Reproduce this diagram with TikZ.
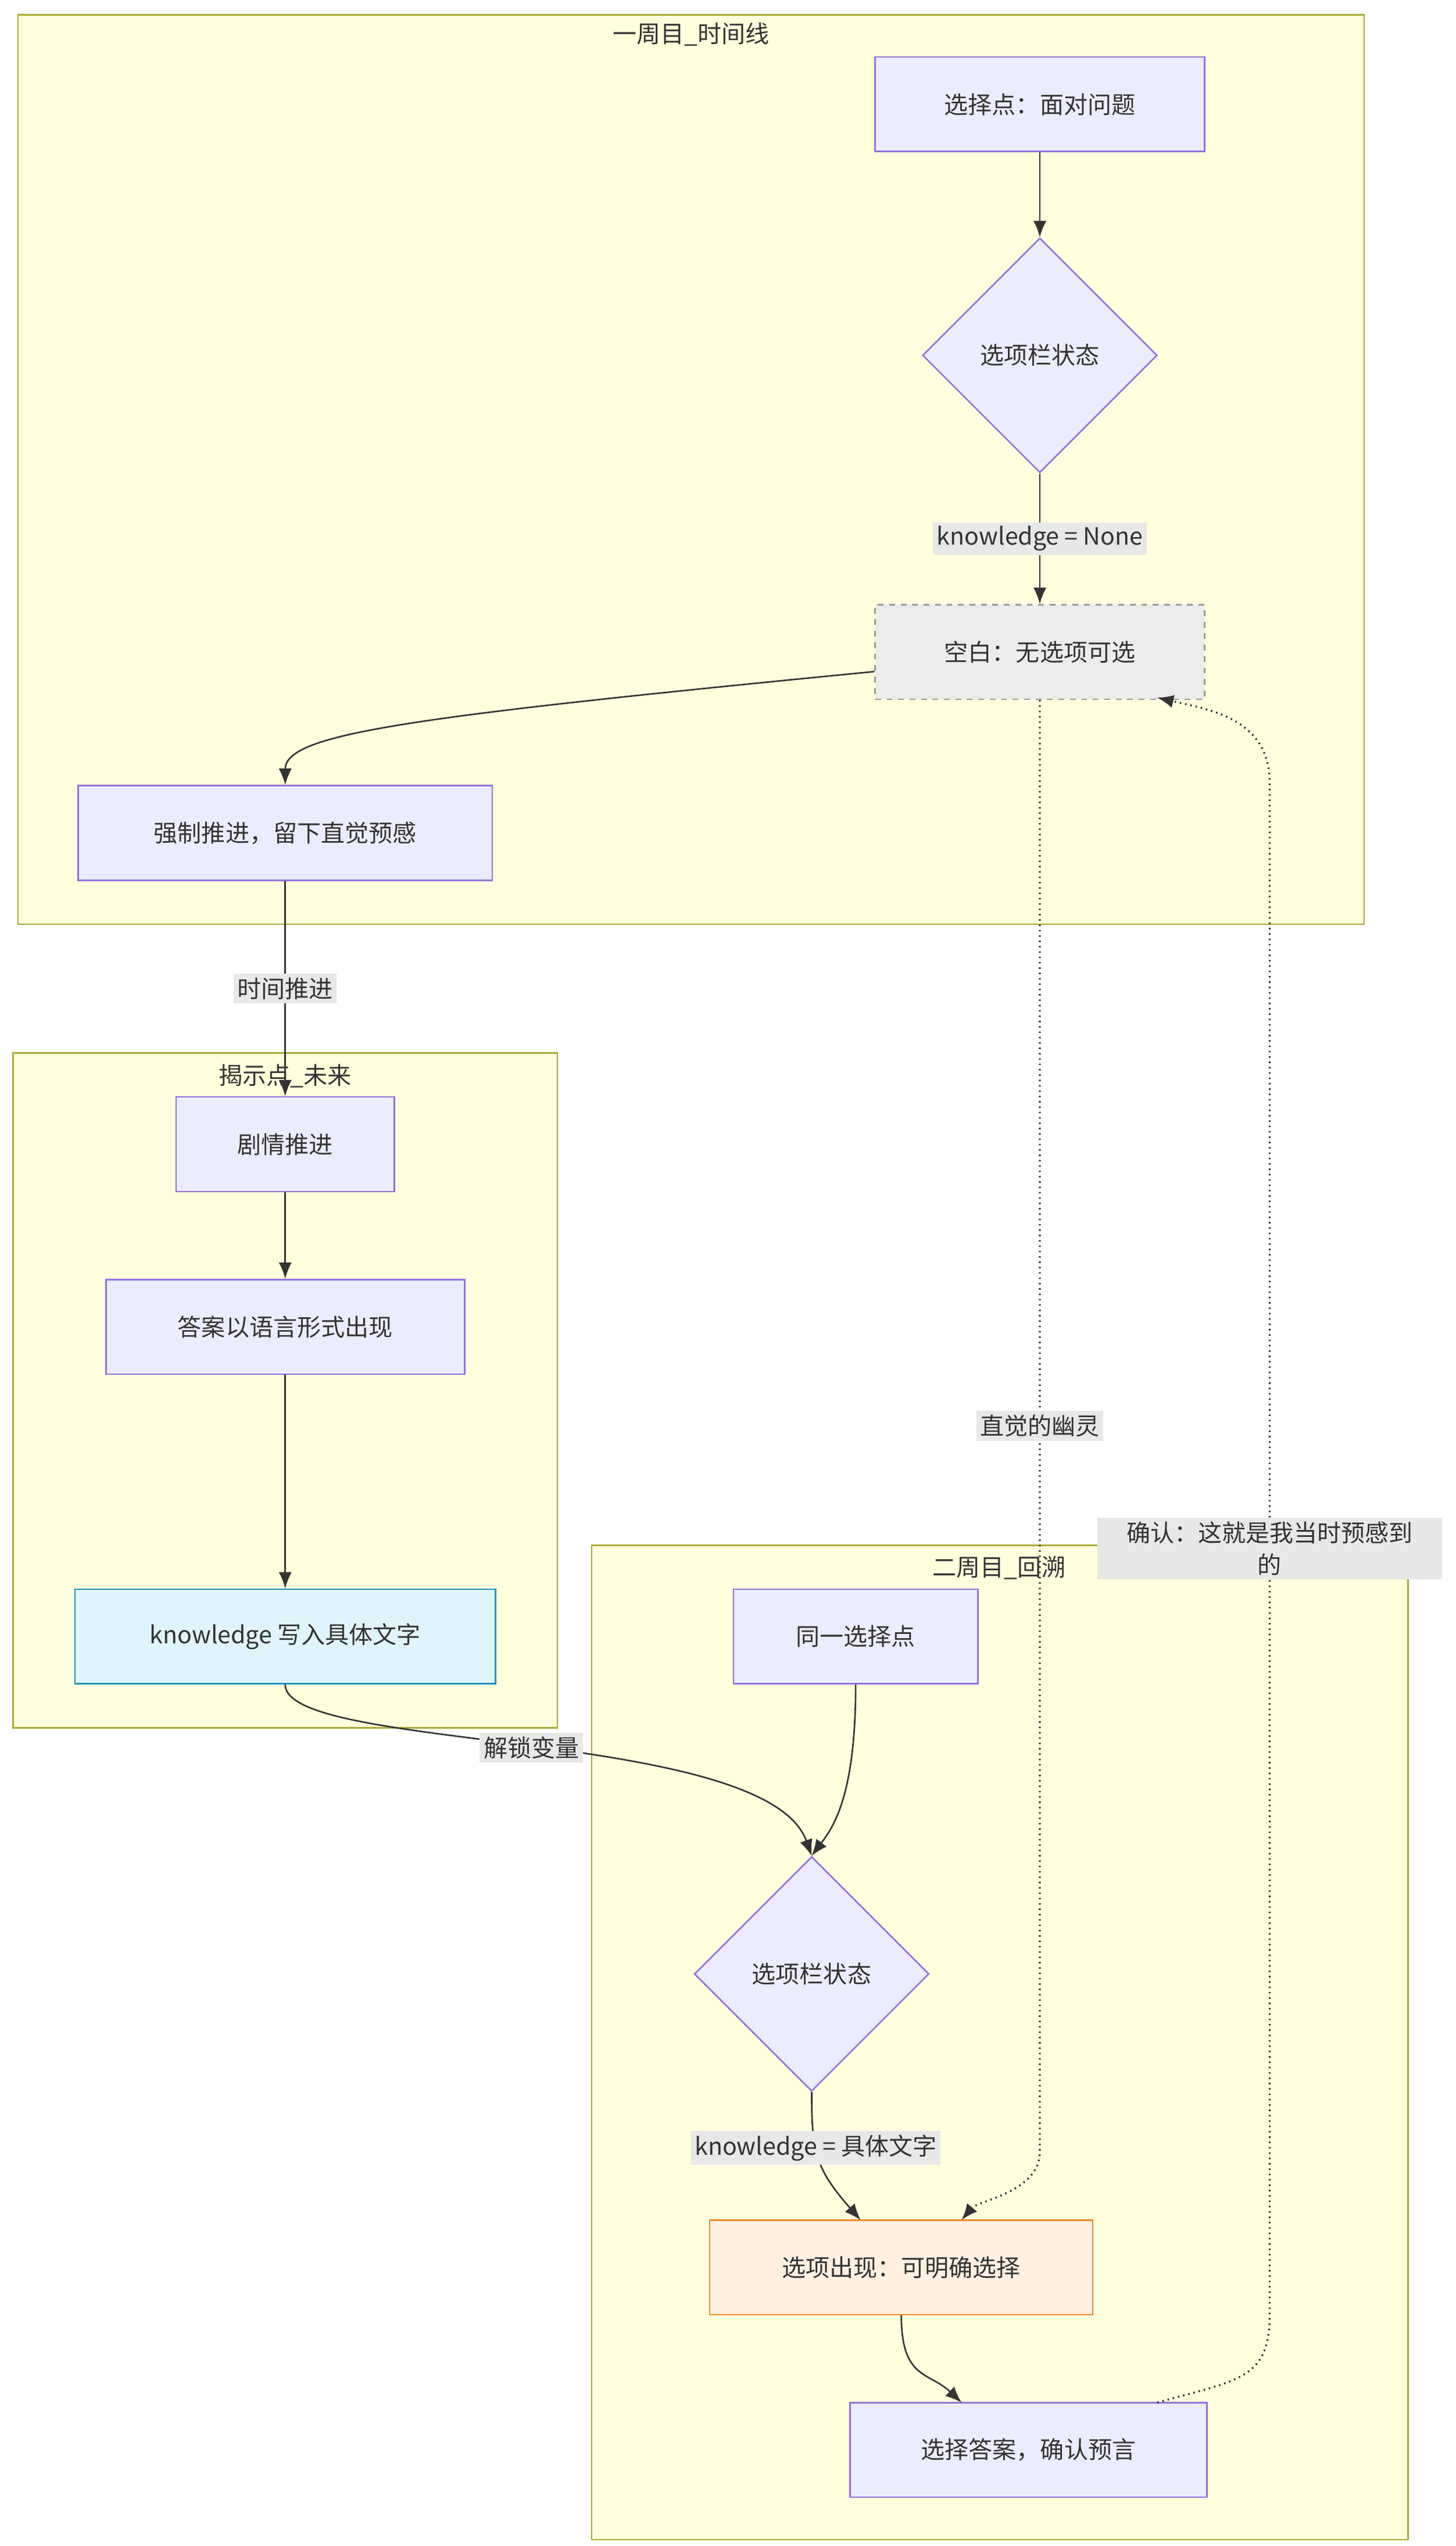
\documentclass[tikz,border=0pt]{standalone}
\usepackage{fontspec}
\setmainfont{Noto Sans CJK SC}
\usetikzlibrary{shapes.geometric, arrows.meta, positioning}
\definecolor{nodefill}{HTML}{ECECFF}
\definecolor{nodeline}{HTML}{9370DB}
\definecolor{clusterfill}{HTML}{FFFFDE}
\definecolor{clusterline}{HTML}{AAAA33}
\definecolor{labelfill}{HTML}{E8E8E8}
\definecolor{edgecol}{HTML}{333333}
\tikzset{
    cluster/.style   = {draw=clusterline, fill=clusterfill, line width=0.8pt},
    title/.style     = {font=\fontsize{12.5}{15}\selectfont, text=edgecol},
    process/.style   = {draw=nodeline, fill=nodefill, rectangle, minimum height=1.74cm, text centered, line width=0.8pt},
    decision/.style  = {draw=nodeline, fill=nodefill, diamond, minimum width=4.32cm, minimum height=4.32cm, inner sep=0pt, line width=0.8pt},
    blank/.style     = {process, draw=gray!80, fill=gray!15, dashed},
    written/.style   = {process, draw=HTML1F8FBF, fill=HTMLE0F4FC},
    shown/.style     = {process, draw=HTMLF08A24, fill=HTMLFFF0E0},
    elabel/.style    = {fill=labelfill, inner sep=2pt, font=\fontsize{12.5}{17}\selectfont, text=edgecol},
    to/.style        = {-{Latex[length=3mm,width=2.4mm]}, draw=edgecol, line width=0.8pt},
    ghost/.style     = {to, dotted, line width=1pt}
}
\definecolor{HTML1F8FBF}{HTML}{1F8FBF}
\definecolor{HTMLE0F4FC}{HTML}{E0F4FC}
\definecolor{HTMLF08A24}{HTML}{F08A24}
\definecolor{HTMLFFF0E0}{HTML}{FFF0E0}
\begin{document}
\begin{tikzpicture}[x=0.03cm, y=-0.03cm, every node/.style={font=\fontsize{12.5}{15}\selectfont, text=edgecol}]
	\useasboundingbox (0,0) rectangle (893,1562);
	% clusters
	\draw [cluster] (11,9) rectangle (837,567);
	\node [title] at (424,21) {一周目\_时间线};
	\draw [cluster] (8,646) rectangle (342,1060);
	\node [title] at (175,660) {揭示点\_未来};
	\draw [cluster] (363,948) rectangle (864,1558);
	\node [title] at (613,962) {二周目\_回溯};

	% nodes
	\node (ask)    [process, minimum width=6.06cm] at (638,64) {选择点：面对问题};
	\node (state1) [decision] at (638,218) {选项栏状态};
	\node (empty)  [blank, minimum width=6.06cm] at (638,400) {空白：无选项可选};
	\node (force)  [process, minimum width=7.62cm] at (175,511) {强制推进，留下直觉预感};
	\node (plot)   [process, minimum width=4.02cm] at (175,702) {剧情推进};
	\node (answer) [process, minimum width=6.6cm] at (175,814) {答案以语言形式出现};
	\node (write)  [written, minimum width=7.74cm] at (175,1004) {knowledge 写入具体文字};
	\node (same)   [process, minimum width=4.5cm] at (525,1004) {同一选择点};
	\node (state2) [decision] at (498,1211) {选项栏状态};
	\node (appear) [shown, minimum width=7.05cm] at (553,1391) {选项出现：可明确选择};
	\node (pick)   [process, minimum width=6.57cm] at (631,1503) {选择答案，确认预言};

	% edges
	\draw [to] (ask) -- (state1);
	\draw [to] (state1) -- node[elabel]{knowledge = None} (empty);
	\draw [to] (empty.west |- 0,412) .. controls (250,440) and (175,450) .. (force.north);
	\draw [to] (force) -- node[elabel, pos=0.5]{时间推进} (plot);
	\draw [to] (plot) -- (answer);
	\draw [to] (answer) -- (write);
	\draw [to] (write.south) .. controls (175,1075) and (470,1060) .. node[elabel, pos=0.5]{解锁变量} (state2.north);
	\draw [to] (same.south) .. controls (525,1100) and (512,1120) .. (state2.north);
	\draw [to] (state2.south) .. controls (498,1320) and (500,1330) .. node[elabel, pos=0.4]{knowledge = 具体文字} (528,1362);
	\draw [to] (appear.south) .. controls (553,1460) and (570,1455) .. (590,1474);
	\draw [ghost] (empty.south) -- node[elabel]{直觉的幽灵} (638,1320) .. controls (638,1345) and (600,1350) .. (590,1362);
	\draw [ghost] (710,1474) .. controls (760,1460) and (779,1460) .. (779,1420) -- (779,480)
		node[elabel, align=center, pos=0.5, text width=6.2cm]{确认：这就是我当时预感到\\的}
		.. controls (779,440) and (740,435) .. (710,428);
\end{tikzpicture}
\end{document}
